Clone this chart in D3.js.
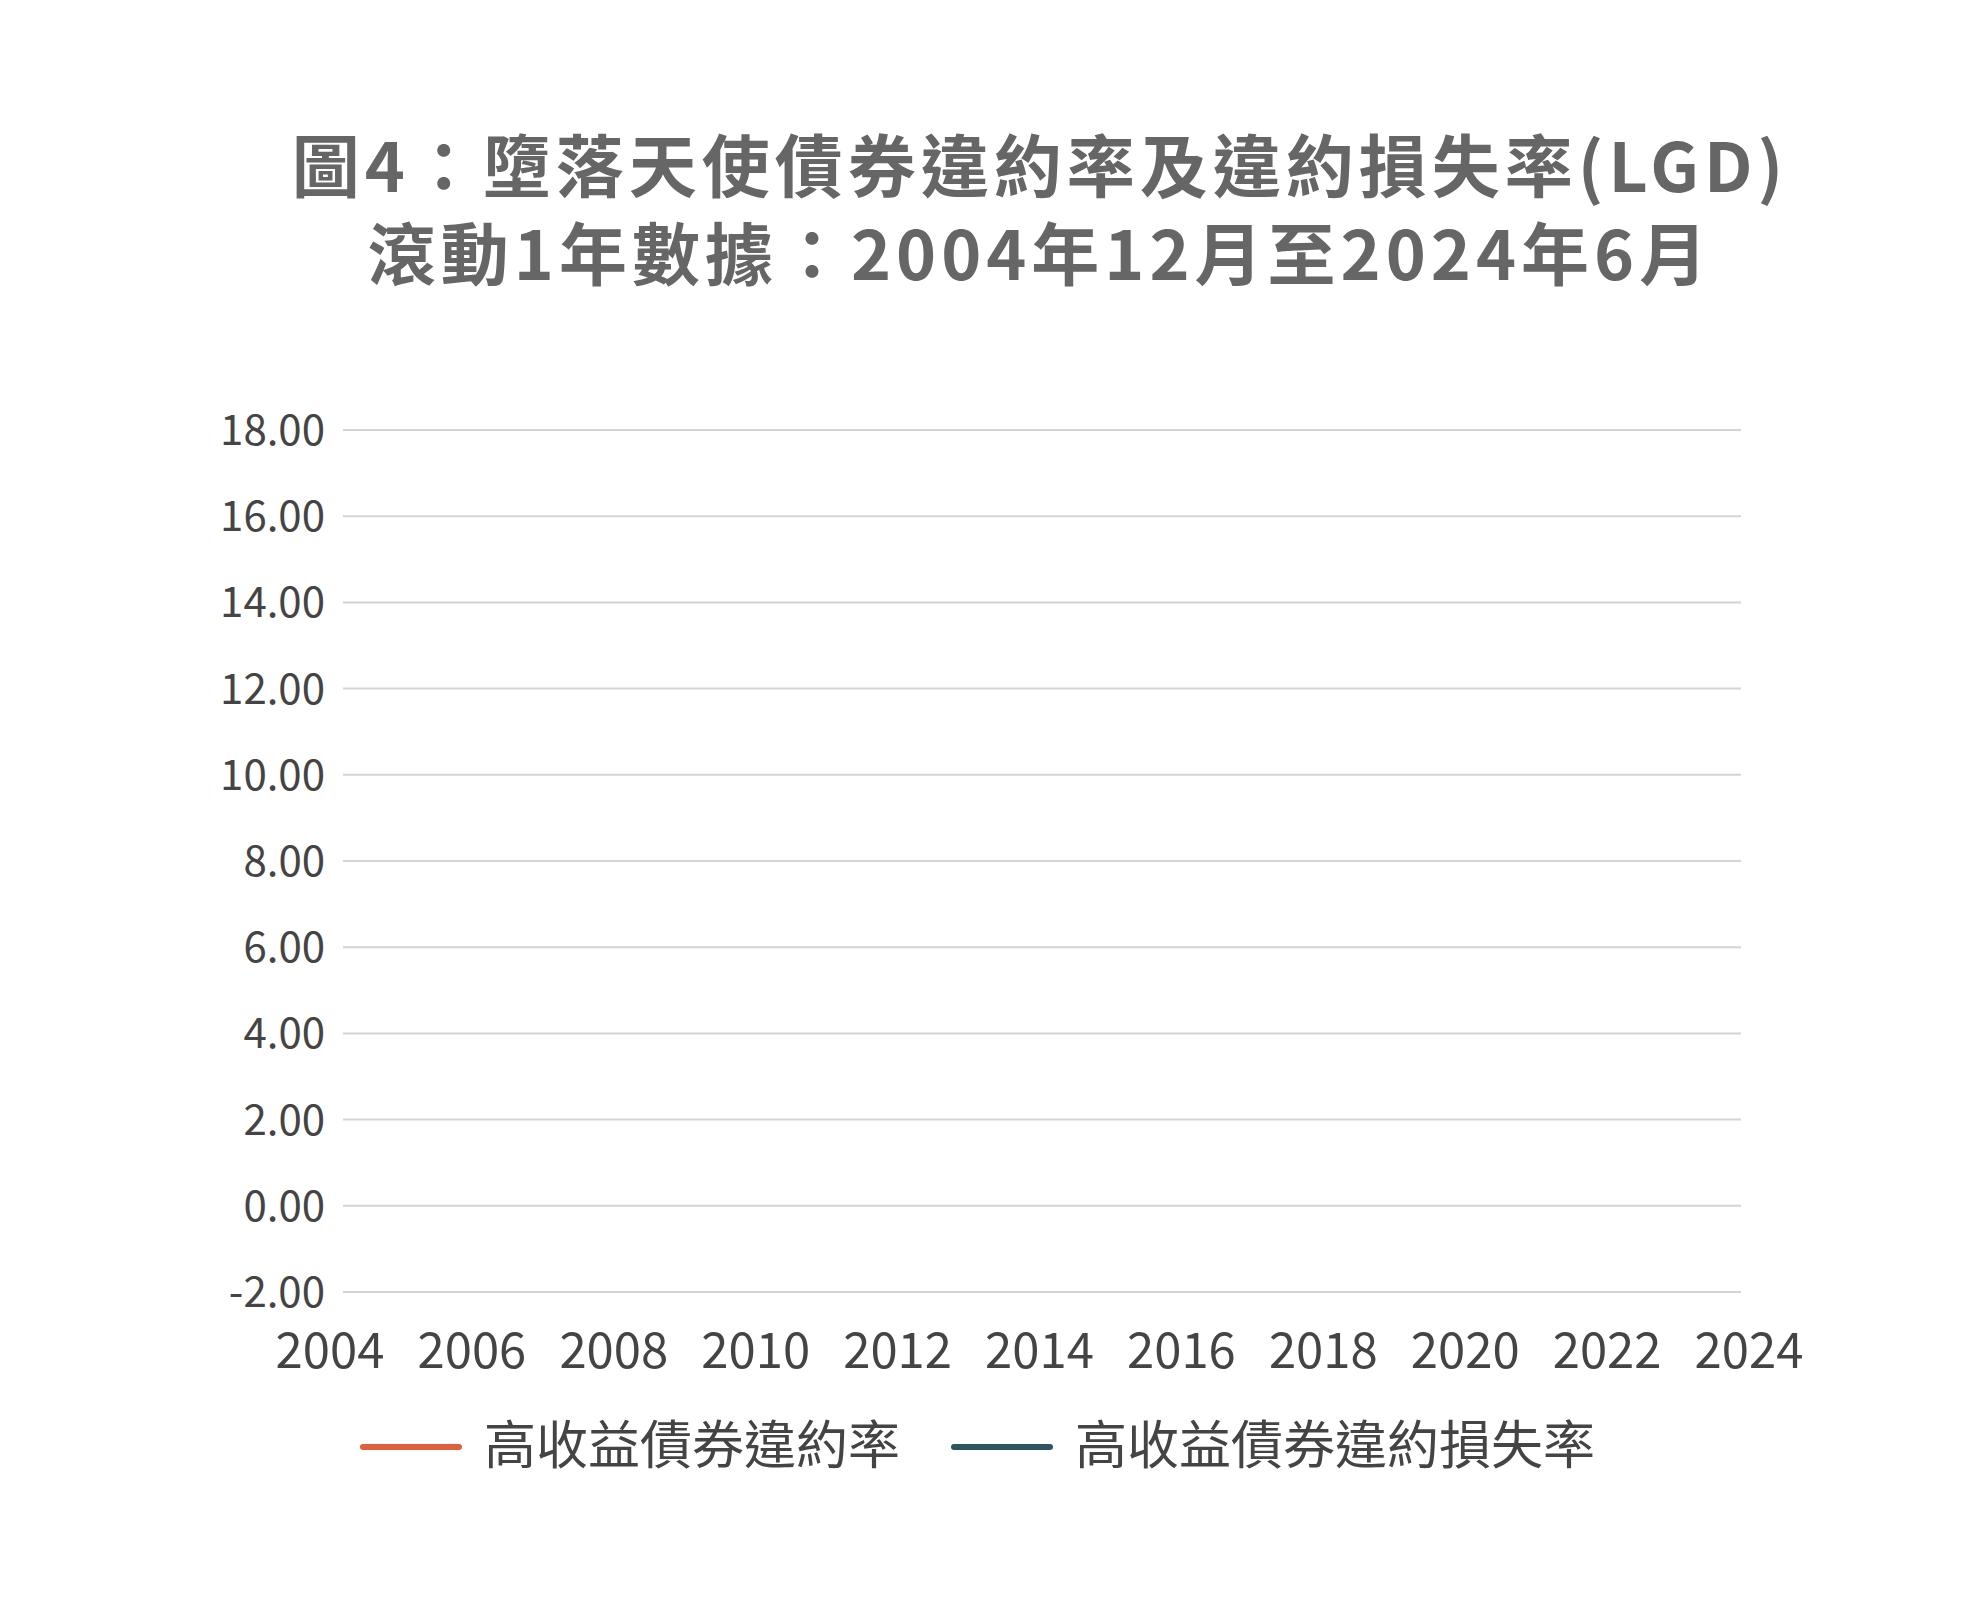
<!DOCTYPE html>
<html><head><meta charset="utf-8">
<script src="https://cdn.jsdelivr.net/npm/d3@7"></script>
<style>body{margin:0;background:#fff}</style></head>
<body><svg id="c" width="1980" height="1600"></svg>
<script>
const titleLines=["圖4：墮落天使債券違約率及違約損失率(LGD)","滾動1年數據：2004年12月至2024年6月"];
const yTicks=[-2,0,2,4,6,8,10,12,14,16,18];
const xTicks=[2004,2006,2008,2010,2012,2014,2016,2018,2020,2022,2024];
const seriesNames=["高收益債券違約率","高收益債券違約損失率"];
const seriesColors=["#e0603c","#2f5562"];
const defaultRate=[]; // no visible data in reference
const lgdRate=[];
const font="'Noto Sans CJK TC','Noto Sans',sans-serif";
const svg=d3.select("#c");
svg.selectAll("text.t").data(titleLines).join("text").attr("class","t")
 .attr("x",1040).attr("y",(d,i)=>192+i*88).attr("text-anchor","middle")
 .attr("font-family",font).attr("font-size",68).attr("font-weight",600).attr("letter-spacing",5).attr("fill","#666").text(d=>d);
const x=d3.scaleLinear().domain([2004,2024]).range([330,1749]);
const y=d3.scaleLinear().domain([-2,18]).range([1292,430]);
svg.selectAll("line.g").data(yTicks).join("line").attr("class","g")
 .attr("x1",343).attr("x2",1741).attr("y1",d=>y(d)).attr("y2",d=>y(d))
 .attr("stroke","#d4d4d4").attr("stroke-width",2);
svg.selectAll("text.y").data(yTicks).join("text").attr("class","y")
 .attr("x",325).attr("y",d=>y(d)+15).attr("text-anchor","end")
 .attr("font-family",font).attr("font-size",42).attr("fill","#444").text(d=>d.toFixed(2));
svg.selectAll("text.x").data(xTicks).join("text").attr("class","x")
 .attr("x",d=>x(d)).attr("y",1368).attr("text-anchor","middle")
 .attr("font-family",font).attr("font-size",49).attr("fill","#444").text(d=>d);
const line=d3.line().x(d=>x(d[0])).y(d=>y(d[1]));
[defaultRate,lgdRate].forEach((s,i)=>svg.append("path").datum(s).attr("d",line(s)||"")
 .attr("fill","none").attr("stroke",seriesColors[i]).attr("stroke-width",4));
const lx=[363,954];
seriesNames.forEach((n,i)=>{
 svg.append("line").attr("x1",lx[i]).attr("x2",lx[i]+96).attr("y1",1447).attr("y2",1447)
  .attr("stroke",seriesColors[i]).attr("stroke-width",6).attr("stroke-linecap","round");
 svg.append("text").attr("x",lx[i]+121).attr("y",1464).attr("font-family",font)
  .attr("font-size",52).attr("fill","#444").text(n);
});
</script></body></html>
